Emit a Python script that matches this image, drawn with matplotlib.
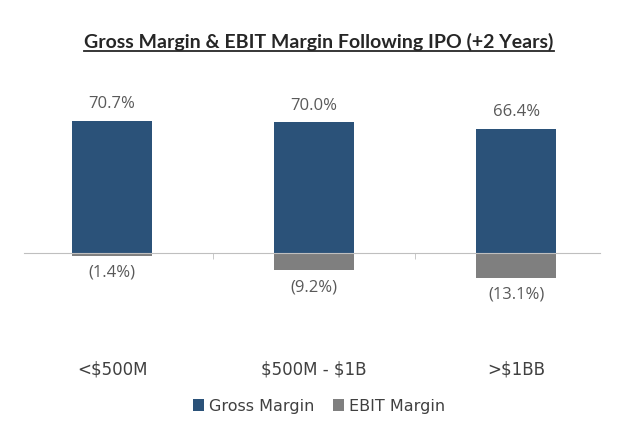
import matplotlib
matplotlib.use("Agg")
import matplotlib.pyplot as plt
from matplotlib.lines import Line2D
import numpy as np

# data
categories = ["<\\$500M", "\\$500M - \\$1B", ">\\$1BB"]
gross_margin = [70.7, 70.0, 66.4]
ebit_margin = [-1.4, -9.2, -13.1]
gross_labels = ["70.7%", "70.0%", "66.4%"]
ebit_labels = ["(1.4%)", "(9.2%)", "(13.1%)"]

blue = "#2b5279"
grey = "#7f7f7f"
txt = "#595959"

fig = plt.figure(figsize=(6.38, 4.31), dpi=100)
ax = fig.add_axes([0.0376, 0.304, 0.903, 0.487])

x = np.arange(len(categories))
w = 0.4
b1 = ax.bar(x, gross_margin, w, color=blue, label="Gross Margin")
b2 = ax.bar(x, ebit_margin, w, color=grey, label="EBIT Margin")

for xi, v, s in zip(x, gross_margin, gross_labels):
    ax.annotate(s, (xi, v), xytext=(0, 7), textcoords="offset points",
                ha="center", va="bottom", color=txt, fontsize=12, family="Open Sans")
for xi, v, s in zip(x, ebit_margin, ebit_labels):
    ax.annotate(s, (xi, v), xytext=(0, -6), textcoords="offset points",
                ha="center", va="top", color=txt, fontsize=12, family="Open Sans")

ax.set_xlim(-0.436, 2.416)
ax.set_ylim(-24.6, 87.8)

# zero line with small boundary ticks
for s in ["top", "right", "left"]:
    ax.spines[s].set_visible(False)
ax.spines["bottom"].set_position(("data", 0))
ax.spines["bottom"].set_color("#bfbfbf")
ax.set_yticks([])
ax.set_xticks(x)
ax.set_xticklabels(categories, fontsize=12, color="#404040", family="Liberation Sans Narrow")
ax.tick_params(axis="x", which="major", length=0, pad=77)
ax.set_xticks([0.5, 1.5], minor=True)
ax.tick_params(axis="x", which="minor", length=4, color="#bfbfbf", direction="out")

leg = ax.legend(handles=[b1, b2], loc="center", ncol=2, frameon=False,
                handlelength=0.7, handleheight=0.7, handletextpad=0.3, columnspacing=1.2,
                prop={"family": "Liberation Sans Narrow", "size": 11.5})
leg.set_bbox_to_anchor((0.5, 1 - 407 / 431), transform=fig.transFigure)
for t in leg.get_texts():
    t.set_color("#404040")

title = fig.text(0.5, 1 - 42 / 431, "Gross Margin & EBIT Margin Following IPO (+2 Years)",
                 ha="center", va="center", fontsize=14, fontweight="bold",
                 family="Lato", color="#262626")
fig.canvas.draw()
bb = title.get_window_extent().transformed(fig.transFigure.inverted())
fig.add_artist(Line2D([bb.x0, bb.x1], [bb.y0 - 0.002, bb.y0 - 0.002],
                      transform=fig.transFigure, color="#262626", lw=1.3))

fig.savefig("out.png", dpi=100)
